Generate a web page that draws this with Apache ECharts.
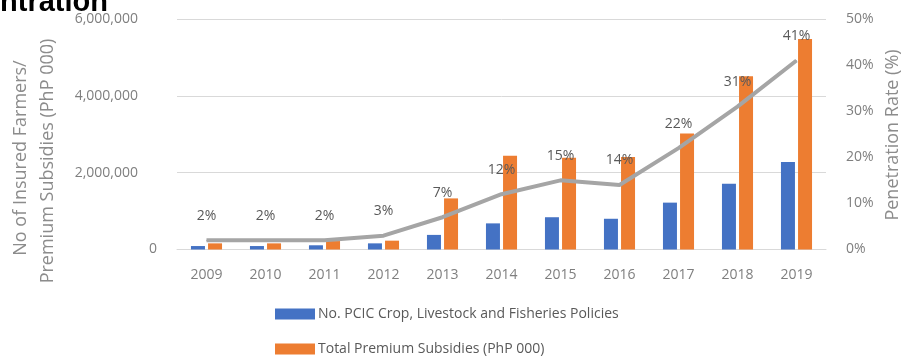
<!DOCTYPE html>
<html>
<head>
<meta charset="utf-8">
<style>
html,body{margin:0;padding:0;background:#fff;}
#chart{width:903px;height:356px;}
</style>
<script src="https://cdn.jsdelivr.net/npm/echarts@6/dist/echarts.min.js"></script>
</head>
<body>
<div id="chart"></div>
<script>
const years = ['2009','2010','2011','2012','2013','2014','2015','2016','2017','2018','2019'];
const policies = [90000, 90000, 110000, 160000, 380000, 680000, 840000, 800000, 1220000, 1710000, 2280000];
const subsidies = [160000, 160000, 220000, 230000, 1330000, 2440000, 2390000, 2410000, 3020000, 4510000, 5480000];
const penetration = [2, 2, 2, 3, 7, 12, 15, 14, 22, 31, 41];
const leftTicks = [0, 2000000, 4000000, 6000000];
const rightTicks = [0, 10, 20, 30, 40, 50];
const seriesNames = ['No. PCIC Crop, Livestock and Fisheries Policies', 'Total Premium Subsidies (PhP 000)', 'Penetration Rate (%)'];

const FONT = 'Open Sans';
const legendCommon = {
  orient: 'horizontal', left: 270,
  itemWidth: 40, itemHeight: 11, itemGap: 10,
  icon: 'rect',
  textStyle: { color: '#595959', fontSize: 14, fontFamily: FONT, padding: [0,0,0,-2] }
};
const chart = echarts.init(document.getElementById('chart'));
chart.setOption({
  animation: false,
  textStyle: { fontFamily: FONT },
  grid: { left: 177, right: 77, top: 19, bottom: 106.5 },
  legend: [
    Object.assign({}, legendCommon, { top: 302, data: [seriesNames[0]] }),
    Object.assign({}, legendCommon, { top: 337, data: [seriesNames[1]] })
  ],
  graphic: [
    { type: 'text', x: 108, y: 17, style: { text: 'Concentration', font: 'bold 29px "Liberation Sans"', fill: '#000', align: 'right', verticalAlign: 'bottom' } },
    { type: 'text', x: 21, y: 158, rotation: Math.PI/2, style: { text: 'No of Insured Farmers/', font: '18px "Open Sans"', fill: '#8c8c8c', align: 'center', verticalAlign: 'middle' } },
    { type: 'text', x: 48, y: 161, rotation: Math.PI/2, style: { text: 'Premium Subsidies (PhP 000)', font: '18px "Open Sans"', fill: '#8c8c8c', align: 'center', verticalAlign: 'middle' } },
    { type: 'text', x: 893, y: 135, rotation: Math.PI/2, style: { text: 'Penetration Rate (%)', font: '18px "Open Sans"', fill: '#8c8c8c', align: 'center', verticalAlign: 'middle' } }
  ],
  xAxis: {
    type: 'category', data: years,
    axisLine: { show: true, lineStyle: { color: '#d9d9d9', width: 1 } },
    axisTick: { show: false },
    axisLabel: { color: '#7f7f7f', fontSize: 14, margin: 19, fontFamily: FONT }
  },
  yAxis: [
    {
      type: 'value', min: leftTicks[0], max: leftTicks[leftTicks.length-1], interval: 2000000,
      axisLine: { show: false }, axisTick: { show: false },
      splitLine: { lineStyle: { color: '#d9d9d9', width: 1 } },
      axisLabel: { color: '#7f7f7f', fontSize: 14, margin: 20, fontFamily: FONT,
        formatter: v => v === 0 ? '{z|0}' : '{p|' + v.toLocaleString('en-US') + '}',
        rich: {
          z: { color: '#7f7f7f', fontSize: 14, fontFamily: FONT },
          p: { color: '#7f7f7f', fontSize: 14, fontFamily: FONT, padding: [0, 19, 0, 0] }
        } }
    },
    {
      type: 'value', min: rightTicks[0], max: rightTicks[rightTicks.length-1], interval: 10,
      axisLine: { show: false }, axisTick: { show: false },
      splitLine: { show: false },
      axisLabel: { color: '#7f7f7f', fontSize: 14, margin: 20, fontFamily: FONT, formatter: '{value}%' }
    }
  ],
  series: [
    { name: seriesNames[0], type: 'bar', data: policies, barWidth: 14, barGap: '22%', itemStyle: { color: '#4472c4' } },
    { name: seriesNames[1], type: 'bar', data: subsidies, barWidth: 14, barGap: '22%', itemStyle: { color: '#ed7d31' } },
    { name: seriesNames[2], type: 'line', yAxisIndex: 1, data: penetration,
      symbol: 'circle', symbolSize: 1, itemStyle: { color: '#a5a5a5' },
      lineStyle: { color: '#a5a5a5', width: 4 },
      label: { show: true, position: 'top', distance: 17, color: '#595959', fontSize: 14, fontFamily: FONT, formatter: '{c}%' } }
  ]
});
</script>
</body>
</html>
